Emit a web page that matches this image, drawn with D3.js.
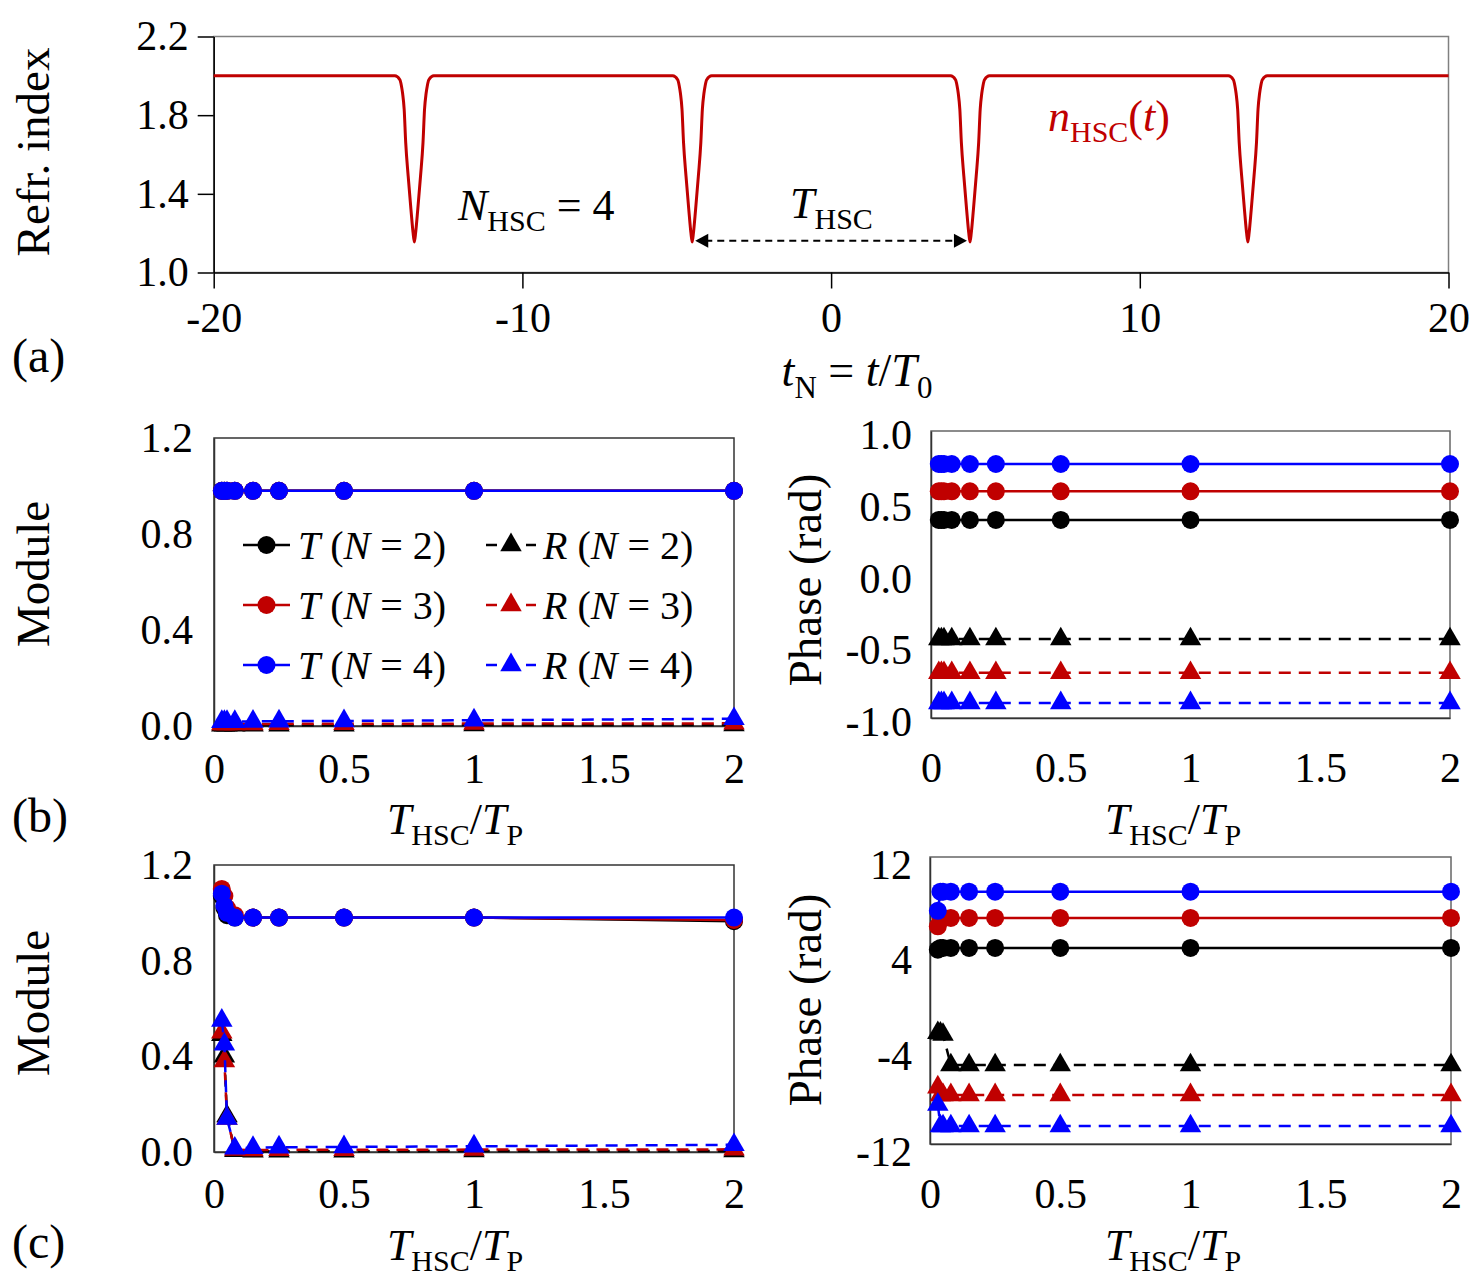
<!DOCTYPE html>
<html>
<head>
<meta charset="utf-8">
<script src="https://cdn.jsdelivr.net/npm/d3@7"></script>
<style>
  body { margin: 0; background: #fff; }
  text { font-family: "Liberation Serif", "DejaVu Serif", serif; fill: #000; white-space: pre; }
</style>
</head>
<body>
<div id="chart"></div>
<script>

// ---- data ----

// (a) refractive index n_HSC(t), sampled along the curve
var refT = [-20,
  -14.13, -13.97, -13.92, -13.88, -13.83, -13.78, -13.70, -13.61, -13.54, -13.50,
  -13.46, -13.39, -13.30, -13.22, -13.17, -13.12, -13.08, -13.03, -12.87,
  -5.13, -4.97, -4.92, -4.88, -4.83, -4.78, -4.70, -4.61, -4.54, -4.50,
  -4.46, -4.39, -4.30, -4.22, -4.17, -4.12, -4.08, -4.03, -3.87,
  3.87, 4.03, 4.08, 4.12, 4.17, 4.22, 4.30, 4.39, 4.46, 4.50,
  4.54, 4.61, 4.70, 4.78, 4.83, 4.88, 4.92, 4.97, 5.13,
  12.87, 13.03, 13.08, 13.12, 13.17, 13.22, 13.30, 13.39, 13.46, 13.50,
  13.54, 13.61, 13.70, 13.78, 13.83, 13.88, 13.92, 13.97, 14.13,
  20];
var refN = [2.0,
  2.0, 1.98, 1.95, 1.91, 1.83, 1.66, 1.49, 1.32, 1.20, 1.155,
  1.20, 1.32, 1.49, 1.66, 1.83, 1.91, 1.95, 1.98, 2.0,
  2.0, 1.98, 1.95, 1.91, 1.83, 1.66, 1.49, 1.32, 1.20, 1.155,
  1.20, 1.32, 1.49, 1.66, 1.83, 1.91, 1.95, 1.98, 2.0,
  2.0, 1.98, 1.95, 1.91, 1.83, 1.66, 1.49, 1.32, 1.20, 1.155,
  1.20, 1.32, 1.49, 1.66, 1.83, 1.91, 1.95, 1.98, 2.0,
  2.0, 1.98, 1.95, 1.91, 1.83, 1.66, 1.49, 1.32, 1.20, 1.155,
  1.20, 1.32, 1.49, 1.66, 1.83, 1.91, 1.95, 1.98, 2.0,
  2.0];

var aXTicks = [-20, -10, 0, 10, 20];
var aYTicks = [1.0, 1.4, 1.8, 2.2];

// T_HSC / T_P values (b) and (c)
var tau = [0.03, 0.04, 0.05, 0.08, 0.15, 0.25, 0.5, 1, 2];

var bModT2 = [0.98, 0.98, 0.98, 0.98, 0.98, 0.98, 0.98, 0.98, 0.98];
var bModT3 = [0.98, 0.98, 0.98, 0.98, 0.98, 0.98, 0.98, 0.98, 0.98];
var bModT4 = [0.98, 0.98, 0.98, 0.98, 0.98, 0.98, 0.98, 0.98, 0.98];
var bModR2 = [0.003, 0.003, 0.003, 0.003, 0.003, 0.003, 0.003, 0.004, 0.004];
var bModR3 = [0.008, 0.008, 0.008, 0.008, 0.008, 0.009, 0.009, 0.010, 0.011];
var bModR4 = [0.018, 0.018, 0.018, 0.018, 0.019, 0.020, 0.021, 0.024, 0.030];

var bPhT2 = [0.38, 0.38, 0.38, 0.38, 0.38, 0.38, 0.38, 0.38, 0.38];
var bPhT3 = [0.58, 0.58, 0.58, 0.58, 0.58, 0.58, 0.58, 0.58, 0.58];
var bPhT4 = [0.77, 0.77, 0.77, 0.77, 0.77, 0.77, 0.77, 0.77, 0.77];
var bPhR2 = [-0.45, -0.45, -0.45, -0.45, -0.45, -0.45, -0.45, -0.45, -0.45];
var bPhR3 = [-0.685, -0.685, -0.685, -0.685, -0.685, -0.685, -0.685, -0.685, -0.685];
var bPhR4 = [-0.895, -0.895, -0.895, -0.895, -0.895, -0.895, -0.895, -0.895, -0.895];

var cModT2 = [1.07, 1.02, 0.99, 0.98, 0.98, 0.98, 0.98, 0.98, 0.965];
var cModT3 = [1.10, 1.07, 1.02, 0.99, 0.98, 0.98, 0.98, 0.98, 0.97];
var cModT4 = [1.08, 1.03, 1.00, 0.98, 0.98, 0.98, 0.98, 0.98, 0.98];
var cModR2 = [0.49, 0.40, 0.15, 0.005, 0.003, 0.003, 0.003, 0.004, 0.004];
var cModR3 = [0.50, 0.38, 0.14, 0.010, 0.008, 0.009, 0.009, 0.010, 0.011];
var cModR4 = [0.55, 0.45, 0.14, 0.015, 0.018, 0.020, 0.021, 0.024, 0.030];

var cPhT2 = [4.25, 4.4, 4.4, 4.4, 4.4, 4.4, 4.4, 4.4, 4.4];
var cPhT3 = [6.2, 6.9, 6.9, 6.9, 6.9, 6.9, 6.9, 6.9, 6.9];
var cPhT4 = [7.5, 9.1, 9.1, 9.1, 9.1, 9.1, 9.1, 9.1, 9.1];
var cPhR2 = [-2.7, -2.75, -2.85, -5.4, -5.4, -5.4, -5.4, -5.4, -5.4];
var cPhR3 = [-7.25, -7.9, -7.9, -7.9, -7.9, -7.9, -7.9, -7.9, -7.9];
var cPhR4 = [-8.7, -10.5, -10.5, -10.5, -10.5, -10.5, -10.5, -10.5, -10.5];

var tauTicks = [0, 0.5, 1, 1.5, 2];
var modTicks = [0, 0.4, 0.8, 1.2];
var bPhTicks = [-1, -0.5, 0, 0.5, 1];
var cPhTicks = [-12, -4, 4, 12];

var legendNames = ['2', '3', '4'];

// ---- drawing ----

var width = 1478, height = 1280;
var colors = ['#000000', '#c00000', '#0000ff'];

var svg = d3.select('#chart').append('svg')
  .attr('width', width).attr('height', height);

svg.append('rect').attr('width', width).attr('height', height).attr('fill', '#fff');

// text with italic parts and subscripts
function mtext(g, x, y, parts, size, color, anchor) {
  var t = g.append('text').attr('x', x).attr('y', y)
    .attr('font-size', size).attr('text-anchor', anchor || 'start')
    .style('fill', color || '#000');
  var shift = 0;
  parts.forEach(function(p) {
    var ts = t.append('tspan').text(p.s);
    var want = p.sub ? Math.round(size * 0.26) : 0;
    if (want - shift != 0) ts.attr('dy', want - shift);
    shift = want;
    if (p.sub) ts.attr('font-size', Math.round(size * 0.68));
    if (p.it) ts.style('font-style', 'italic');
    if (p.dx) ts.attr('dx', p.dx);
  });
  return t;
}

function styleAxis(g, size) {
  g.attr('font-size', size).attr('font-family', '"Liberation Serif", serif');
  g.selectAll('text').style('fill', '#000');
}

function makePanel(box, xdom, ydom, o) {
  var x = d3.scaleLinear().domain(xdom).range([box.x0, box.x1]);
  var y = d3.scaleLinear().domain(ydom).range([box.y1, box.y0]);

  svg.append('rect')
    .attr('x', box.x0).attr('y', box.y0)
    .attr('width', box.x1 - box.x0).attr('height', box.y1 - box.y0)
    .attr('fill', 'none').attr('stroke', o.frame).attr('stroke-width', 1.5);

  var gx = svg.append('g')
    .attr('transform', 'translate(0,' + box.y1 + ')')
    .call(d3.axisBottom(x).tickValues(o.xticks).tickSize(o.tick).tickSizeOuter(0)
      .tickPadding(o.xpad).tickFormat(o.xfmt));
  styleAxis(gx, 42);
  gx.select('.domain').attr('stroke', o.axis).attr('stroke-width', 1.5);
  gx.selectAll('.tick line').attr('stroke', o.axis).attr('stroke-width', 1.5);

  var gy = svg.append('g')
    .attr('transform', 'translate(' + box.x0 + ',0)')
    .call(d3.axisLeft(y).tickValues(o.yticks).tickSize(o.tick).tickSizeOuter(0)
      .tickPadding(o.ypad).tickFormat(o.yfmt));
  styleAxis(gy, 42);
  gy.select('.domain').attr('stroke', o.axis).attr('stroke-width', 1.5);
  gy.selectAll('.tick line').attr('stroke', o.axis).attr('stroke-width', 1.5);
  gy.selectAll('text').attr('dy', o.ydy || '0.32em');

  return {x: x, y: y};
}

function drawSeries(p, ys, color, dashed, marker) {
  var pts = tau.map(function(t, i) { return [t, ys[i]]; });
  svg.append('path').datum(pts)
    .attr('fill', 'none').attr('stroke', color).attr('stroke-width', 2.5)
    .attr('stroke-dasharray', dashed ? '12,8' : null)
    .attr('d', d3.line().x(function(d) { return p.x(d[0]); }).y(function(d) { return p.y(d[1]); }));
  if (marker == 'circle') {
    svg.selectAll(null).data(pts).enter().append('circle')
      .attr('cx', function(d) { return p.x(d[0]); })
      .attr('cy', function(d) { return p.y(d[1]); })
      .attr('r', 9).attr('fill', color);
  } else {
    svg.selectAll(null).data(pts).enter().append('path')
      .attr('d', d3.symbol().type(d3.symbolTriangle).size(200))
      .attr('transform', function(d) { return 'translate(' + p.x(d[0]) + ',' + p.y(d[1]) + ')'; })
      .attr('fill', color);
  }
}

function numFmt(d) { return String(d); }
function fix1(d) { return d.toFixed(1); }

// ---- panel (a) ----
var pa = makePanel({x0: 213.7, x1: 1448.5, y0: 36.5, y1: 272.5}, [-20, 20], [1.0, 2.2], {
  xticks: aXTicks, yticks: aYTicks, tick: 16, xpad: 14, ypad: 9,
  xfmt: numFmt, yfmt: fix1, frame: '#808080', axis: '#000'
});

svg.append('path').datum(refT.map(function(t, i) { return [t, refN[i]]; }))
  .attr('fill', 'none').attr('stroke', '#c00000').attr('stroke-width', 3)
  .attr('d', d3.line().curve(d3.curveMonotoneX)
    .x(function(d) { return pa.x(d[0]); }).y(function(d) { return pa.y(d[1]); }));

// period arrow between two dips
var arrowFrom = -4.4, arrowTo = 4.4, arrowLevel = 1.162;
var ax0 = pa.x(arrowFrom), ax1 = pa.x(arrowTo), ay = pa.y(arrowLevel);
svg.append('line').attr('x1', ax0 + 10).attr('x2', ax1 - 10).attr('y1', ay).attr('y2', ay)
  .attr('stroke', '#000').attr('stroke-width', 2).attr('stroke-dasharray', '7,5');
svg.append('path').attr('d', 'M' + ax0 + ',' + ay + 'l13,-7l0,14z').attr('fill', '#000');
svg.append('path').attr('d', 'M' + ax1 + ',' + ay + 'l-13,-7l0,14z').attr('fill', '#000');

mtext(svg, 458, 220, [{s: 'N', it: true}, {s: 'HSC', sub: true}, {s: ' = 4'}], 44);
mtext(svg, 790, 218, [{s: 'T', it: true}, {s: 'HSC', sub: true}], 44);
mtext(svg, 1048, 131, [{s: 'n', it: true}, {s: 'HSC', sub: true}, {s: '('}, {s: 't', it: true}, {s: ')'}], 44, '#c00000');
mtext(svg, 857, 386, [{s: 't', it: true}, {s: 'N', sub: true}, {s: ' = '}, {s: 't', it: true}, {s: '/'},
  {s: 'T', it: true}, {s: '0', sub: true}], 46, '#000', 'middle');

// ---- panels (b) and (c) ----
var boxes = {
  bl: {x0: 214, x1: 734, y0: 438, y1: 726},
  br: {x0: 931, x1: 1450, y0: 431, y1: 718},
  cl: {x0: 214, x1: 734, y0: 865, y1: 1152},
  cr: {x0: 930, x1: 1451, y0: 857, y1: 1144}
};

var pbl = makePanel(boxes.bl, [0, 2], [0, 1.2], {
  xticks: tauTicks, yticks: modTicks, tick: 0, xpad: 27, ypad: 21,
  xfmt: numFmt, yfmt: fix1, frame: '#333', axis: '#333'
});
var pbr = makePanel(boxes.br, [0, 2], [-1, 1], {
  xticks: tauTicks, yticks: bPhTicks, tick: 0, xpad: 34, ypad: 19, ydy: '0.42em',
  xfmt: numFmt, yfmt: fix1, frame: '#666', axis: '#333'
});
var pcl = makePanel(boxes.cl, [0, 2], [0, 1.2], {
  xticks: tauTicks, yticks: modTicks, tick: 0, xpad: 26, ypad: 21,
  xfmt: numFmt, yfmt: fix1, frame: '#333', axis: '#333'
});
var pcr = makePanel(boxes.cr, [0, 2], [-12, 12], {
  xticks: tauTicks, yticks: cPhTicks, tick: 0, xpad: 34, ypad: 18, ydy: '0.5em',
  xfmt: numFmt, yfmt: numFmt, frame: '#666', axis: '#333'
});

function drawSet(p, T, R) {
  for (var i = 0; i < 3; i++) drawSeries(p, R[i], colors[i], true, 'triangle');
  for (var j = 0; j < 3; j++) drawSeries(p, T[j], colors[j], false, 'circle');
}
drawSet(pbl, [bModT2, bModT3, bModT4], [bModR2, bModR3, bModR4]);
drawSet(pbr, [bPhT2, bPhT3, bPhT4], [bPhR2, bPhR3, bPhR4]);
drawSet(pcl, [cModT2, cModT3, cModT4], [cModR2, cModR3, cModR4]);
drawSet(pcr, [cPhT2, cPhT3, cPhT4], [cPhR2, cPhR3, cPhR4]);

// legend in (b) left
legendNames.forEach(function(n, i) {
  var cy = 545 + i * 60;
  svg.append('line').attr('x1', 243).attr('x2', 290).attr('y1', cy).attr('y2', cy)
    .attr('stroke', colors[i]).attr('stroke-width', 2.5);
  svg.append('circle').attr('cx', 266.5).attr('cy', cy).attr('r', 9).attr('fill', colors[i]);
  mtext(svg, 298, cy + 14, [{s: 'T', it: true}, {s: ' ('}, {s: 'N', it: true}, {s: ' = ' + n + ')'}], 40);

  svg.append('line').attr('x1', 486).attr('x2', 536).attr('y1', cy).attr('y2', cy)
    .attr('stroke', colors[i]).attr('stroke-width', 2.5).attr('stroke-dasharray', '11,9');
  svg.append('path').attr('d', d3.symbol().type(d3.symbolTriangle).size(200))
    .attr('transform', 'translate(511,' + cy + ')').attr('fill', colors[i]);
  mtext(svg, 543, cy + 14, [{s: 'R', it: true}, {s: ' ('}, {s: 'N', it: true}, {s: ' = ' + n + ')'}], 40);
});

// axis titles
function ytitle(x, y, s) {
  svg.append('text').attr('transform', 'translate(' + x + ',' + y + ') rotate(-90)')
    .attr('text-anchor', 'middle').attr('font-size', 47).text(s);
}
ytitle(49, 152, 'Refr. index');
ytitle(49, 574, 'Module');
ytitle(49, 1003, 'Module');
ytitle(821, 580, 'Phase (rad)');
ytitle(821, 1000, 'Phase (rad)');

var tauLabel = [{s: 'T', it: true}, {s: 'HSC', sub: true}, {s: '/'}, {s: 'T', it: true}, {s: 'P', sub: true}];
mtext(svg, 455, 834, tauLabel, 44, '#000', 'middle');
mtext(svg, 1173, 834, tauLabel, 44, '#000', 'middle');
mtext(svg, 455, 1260, tauLabel, 44, '#000', 'middle');
mtext(svg, 1173, 1260, tauLabel, 44, '#000', 'middle');

// panel letters
svg.append('text').attr('x', 12).attr('y', 372).attr('font-size', 48).text('(a)');
svg.append('text').attr('x', 12).attr('y', 832).attr('font-size', 48).text('(b)');
svg.append('text').attr('x', 12).attr('y', 1258).attr('font-size', 48).text('(c)');

</script>
</body>
</html>
